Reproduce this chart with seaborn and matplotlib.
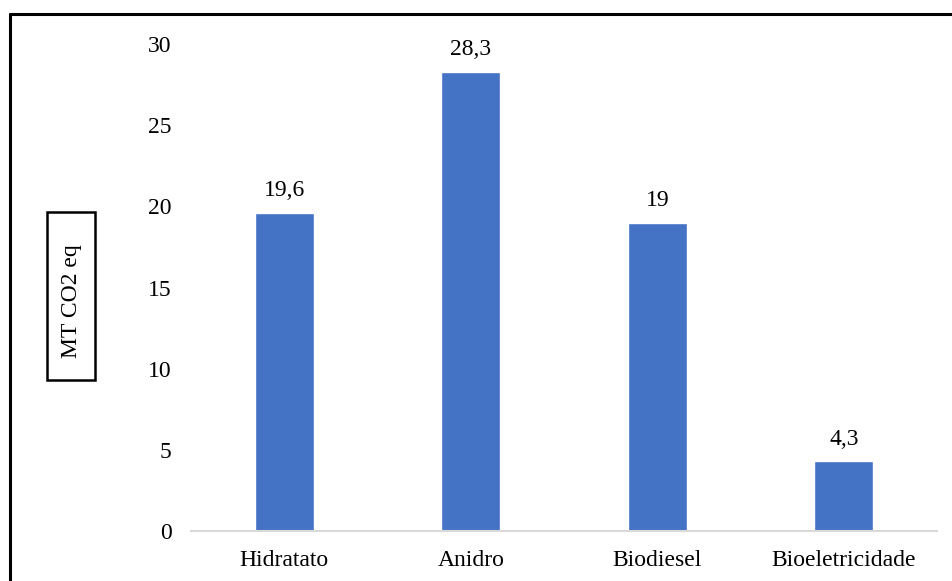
import matplotlib
matplotlib.use("Agg")
import matplotlib.pyplot as plt
from matplotlib.lines import Line2D
from matplotlib.patches import Rectangle
import seaborn as sns
import pandas as pd

categories = ["Hidratato", "Anidro", "Biodiesel", "Bioeletricidade"]
values = [19.6, 28.3, 19.0, 4.3]
value_labels = ["19,6", "28,3", "19", "4,3"]
y_ticks = [0, 5, 10, 15, 20, 25, 30]

sns.set_theme(style="white")
plt.rcParams["font.family"] = ["Liberation Serif", "DejaVu Serif"]

FS = 17

df = pd.DataFrame({"categoria": categories, "valor": values})

fig = plt.figure(figsize=(9.52, 5.81), dpi=100)
ax = fig.add_axes([191 / 952, 1 - 531 / 581, (937 - 191) / 952, (531 - 44) / 581])

sns.barplot(data=df, x="categoria", y="valor", color="#4472C4", saturation=1,
            width=0.315, ax=ax)

ax.set_xlim(-0.5, 3.5)
ax.set_ylim(0, 30)
ax.set_yticks(y_ticks)
ax.set_yticklabels([str(t) for t in y_ticks])
ax.tick_params(axis="y", length=0, pad=14, labelsize=FS, labelcolor="black")
ax.tick_params(axis="x", length=0, pad=14, labelsize=FS, labelcolor="black")
ax.set_xlabel("")
ax.set_ylabel("")

for s in ["top", "right", "left"]:
    ax.spines[s].set_visible(False)
ax.spines["bottom"].set_color("#D9D9D9")
ax.spines["bottom"].set_linewidth(1.5)

for i, (v, lab) in enumerate(zip(values, value_labels)):
    ax.annotate(lab, (i, v), xytext=(0, 12), textcoords="offset points",
                ha="center", va="baseline", fontsize=FS, color="black")

# boxed axis title
fig.add_artist(Rectangle((47 / 952, 1 - 380 / 581), 48 / 952, 168 / 581,
                         facecolor="white", edgecolor="black", linewidth=1.8,
                         transform=fig.transFigure))
fig.text(71 / 952, 1 - 301 / 581, "MT CO2 eq", rotation=90, ha="center", va="center",
         fontsize=FS, color="black")

# outer frame (left and top edges)
fig.add_artist(Line2D([9.5 / 952, 9.5 / 952], [0, 1 - 14 / 581], color="black",
                      linewidth=2.2, transform=fig.transFigure))
fig.add_artist(Line2D([9.5 / 952, 1], [1 - 14 / 581, 1 - 14 / 581], color="black",
                      linewidth=2.2, transform=fig.transFigure))

fig.savefig("out.png", dpi=100, facecolor="white")
